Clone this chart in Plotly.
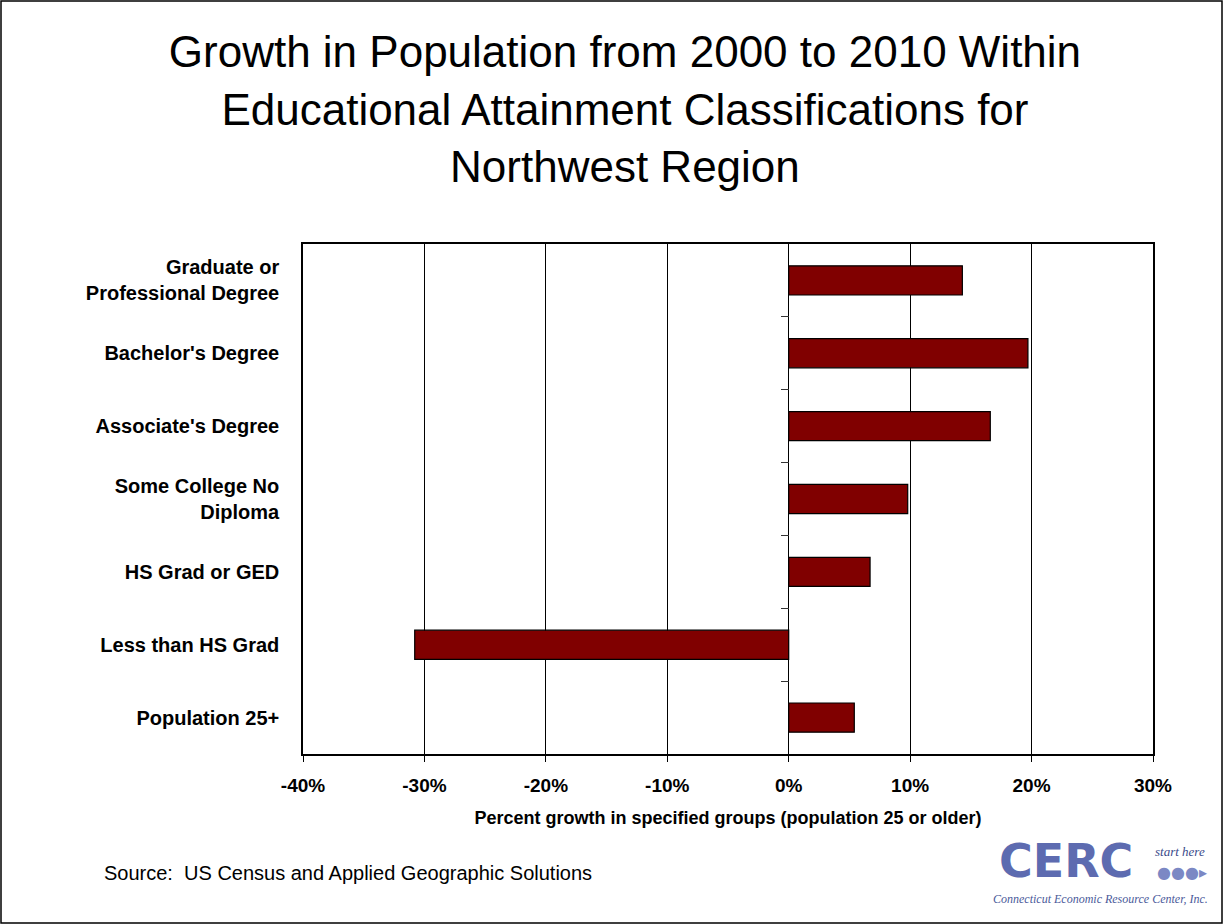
import plotly.graph_objects as go

categories = ["Graduate or<br>Professional Degree", "Bachelor's Degree", "Associate's Degree",
              "Some College No<br>Diploma", "HS Grad or GED", "Less than HS Grad", "Population 25+"]
growth = [0.143, 0.197, 0.166, 0.098, 0.067, -0.308, 0.054]
x_ticks = [-0.4, -0.3, -0.2, -0.1, 0.0, 0.1, 0.2, 0.3]
x_tick_labels = ["-40%", "-30%", "-20%", "-10%", "0%", "10%", "20%", "30%"]

FONT = "Arial, Liberation Sans, sans-serif"
W, H = 1223, 924
ML, MR, MT, MB = 303, 70, 244, 170
PW, PH = W - ML - MR, H - MT - MB

fig = go.Figure()
fig.add_trace(go.Bar(
    y=list(range(len(categories))), x=growth, orientation="h",
    marker=dict(color="#800000", line=dict(color="black", width=1.2)),
    width=0.4, hoverinfo="x"))
fig.add_trace(go.Scatter(x=[None], y=[None], yaxis="y2", showlegend=False))

fig.update_layout(
    width=W, height=H,
    margin=dict(l=ML, r=MR, t=MT, b=MB, pad=0),
    paper_bgcolor="white", plot_bgcolor="white",
    showlegend=False,
    font=dict(family=FONT, color="black"),
    title=dict(text="Growth in Population from 2000 to 2010 Within<br>Educational Attainment Classifications for<br>Northwest Region",
               x=0.511, xanchor="center", y=0.927, yanchor="middle",
               font=dict(size=44, family=FONT, color="black")),
    xaxis=dict(range=[-0.4, 0.3], tickvals=x_ticks, ticktext=x_tick_labels,
               showgrid=True, gridcolor="black", gridwidth=1,
               zeroline=False, showline=True, linecolor="black", linewidth=1.5, mirror=True,
               ticks="outside", ticklen=6, tickcolor="black", ticklabelstandoff=7,
               tickfont=dict(size=19, family=FONT, color="black", weight="bold"),
               title=dict(text="<b>Percent growth in specified groups (population 25 or older)</b>",
                          font=dict(size=18, family=FONT), standoff=17)),
    yaxis=dict(range=[6.5, -0.5], tickvals=list(range(len(categories))), ticktext=categories,
               showgrid=False, zeroline=False, showline=True, linecolor="black", linewidth=1.5, mirror=True,
               ticks="", ticklabelstandoff=18,
               tickfont=dict(size=20, family=FONT, color="black", weight="bold")),
    yaxis2=dict(range=[6.5, -0.5], overlaying="y", anchor="free", position=4/7, side="left",
                tickvals=[i + 0.5 for i in range(len(categories) - 1)], showticklabels=False,
                ticks="outside", ticklen=8, tickcolor="#333", tickwidth=1.2,
                showgrid=False, zeroline=False, showline=False),
)

# outer frame around whole picture
fig.add_shape(type="rect", xref="paper", yref="paper",
              x0=(-ML + 1) / PW, x1=(PW + MR - 1) / PW, y0=(-MB + 1) / PH, y1=(PH + MT - 1) / PH,
              line=dict(color="black", width=1.5), fillcolor="rgba(0,0,0,0)", layer="below")

fig.add_annotation(text="Source:  US Census and Applied Geographic Solutions", xref="paper", yref="paper",
                   x=(102 - ML) / PW, y=(H - 873 - MB) / PH, xanchor="left", yanchor="middle",
                   showarrow=False, font=dict(size=20, family=FONT, color="black"))

# CERC logo approximation
fig.add_annotation(text="<b>CERC</b>", xref="paper", yref="paper",
                   x=(1066 - ML) / PW, y=(H - 861 - MB) / PH, xanchor="center", yanchor="middle",
                   showarrow=False, font=dict(size=46, family="DejaVu Sans", color="#5d6bb0"))
fig.add_annotation(text="<i>start here</i>", xref="paper", yref="paper",
                   x=(1180 - ML) / PW, y=(H - 851 - MB) / PH, xanchor="center", yanchor="middle",
                   showarrow=False, font=dict(size=13, family="Liberation Serif", color="#3a4a8a"))
fig.add_annotation(text="●●●▸", xref="paper", yref="paper",
                   x=(1182 - ML) / PW, y=(H - 872 - MB) / PH, xanchor="center", yanchor="middle",
                   showarrow=False, font=dict(size=16, family="DejaVu Sans", color="#7b88c4"))
fig.add_annotation(text="<i>Connecticut Economic Resource Center, Inc.</i>", xref="paper", yref="paper",
                   x=(1100 - ML) / PW, y=(H - 899 - MB) / PH, xanchor="center", yanchor="middle",
                   showarrow=False, font=dict(size=12, family="Liberation Serif", color="#4a5a9a"))

fig.write_html("out.html", config={"displayModeBar": False},
               post_script="document.body.style.margin='0px';")
